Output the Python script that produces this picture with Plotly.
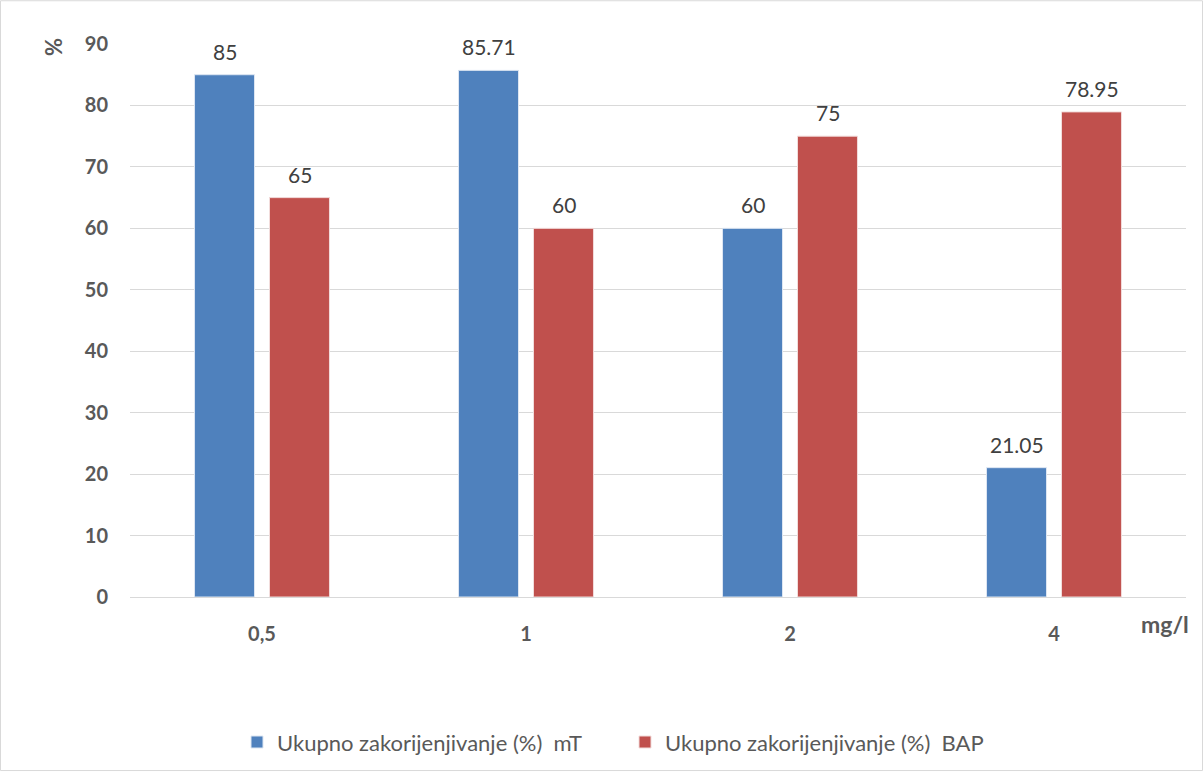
import plotly.graph_objects as go

categories = ["0,5", "1", "2", "4"]
mt_values = [85, 85.71, 60, 21.05]
bap_values = [65, 60, 75, 78.95]
mt_labels = ["85", "85.71", "60", "21.05"]
bap_labels = ["65", "60", "75", "78.95"]
series_names = ["Ukupno zakorijenjivanje (%)  mT", "Ukupno zakorijenjivanje (%)  BAP"]
y_ticks = [0, 10, 20, 30, 40, 50, 60, 70, 80, 90]

W, H = 1203, 775
L, R, T, B = 130, 17, 44, 175
pw, ph = W - L - R, H - T - B
FONT = "Lato, 'Open Sans', sans-serif"
LABEL_FONT = dict(size=21, color="#404040", family=FONT)

fig = go.Figure()
fig.add_trace(go.Bar(
    x=categories, y=mt_values, name=series_names[0],
    marker=dict(color="#4F81BD", line=dict(color="#DDE6F2", width=1)),
))
fig.add_trace(go.Bar(
    x=categories, y=bap_values, name=series_names[1],
    marker=dict(color="#C0504D", line=dict(color="#F2DCDB", width=1)),
))

# data labels above bars (x given as category index)
for vals, labels, shift in ((mt_values, mt_labels, -37.5), (bap_values, bap_labels, 37.5)):
    for i, (v, t) in enumerate(zip(vals, labels)):
        fig.add_annotation(x=i, y=v, text=t, xref="x", yref="y", showarrow=False,
                           xshift=shift, yshift=9, yanchor="bottom", font=LABEL_FONT)

fig.update_layout(
    width=W, height=H,
    margin=dict(l=L, r=R, t=T, b=B),
    paper_bgcolor="white", plot_bgcolor="white",
    barmode="group", bargap=0.432, bargroupgap=0.2,
    font=dict(family=FONT, color="#595959"),
    showlegend=True,
    legend=dict(orientation="h", x=(237 - L) / pw, xanchor="left",
                y=(600 - 746) / ph, yanchor="middle",
                entrywidth=343, entrywidthmode="pixels",
                font=dict(size=22, color="#595959", family=FONT)),
    xaxis=dict(type="category", range=[-0.5, len(categories) - 0.5],
               showgrid=False, showline=True, linecolor="#D9D9D9", linewidth=1,
               ticks="", tickfont=dict(size=20, color="#595959", family=FONT, weight="bold"),
               ticklabelstandoff=19),
    yaxis=dict(range=[0, 90], tickvals=y_ticks, showgrid=True, gridcolor="#D9D9D9",
               gridwidth=1, zeroline=False, showline=False, ticks="",
               tickfont=dict(size=20, color="#595959", family=FONT, weight="bold"),
               ticklabelstandoff=21),
)

fig.add_annotation(text="<b>%</b>", xref="paper", yref="paper",
                   x=(54 - L) / pw, y=(600 - 47) / ph, showarrow=False,
                   xanchor="center", yanchor="middle",
                   textangle=-90, font=dict(size=22, color="#595959", family=FONT))
fig.add_annotation(text="<b>mg/l</b>", xref="paper", yref="paper",
                   x=(1165 - L) / pw, y=(600 - 627) / ph, showarrow=False,
                   xanchor="center", yanchor="middle",
                   font=dict(size=23, color="#595959", family=FONT))

fig.add_shape(type="rect", xref="paper", yref="paper",
              x0=(0.5 - L) / pw, x1=(W - 0.5 - L) / pw,
              y0=(600 - (H - 0.5)) / ph, y1=(600 - 0.5) / ph,
              line=dict(color="#D9D9D9", width=1), layer="below")

fig.write_html("out.html", config={"displayModeBar": False},
               post_script="document.body.style.margin='0px';document.body.style.overflow='hidden';")
